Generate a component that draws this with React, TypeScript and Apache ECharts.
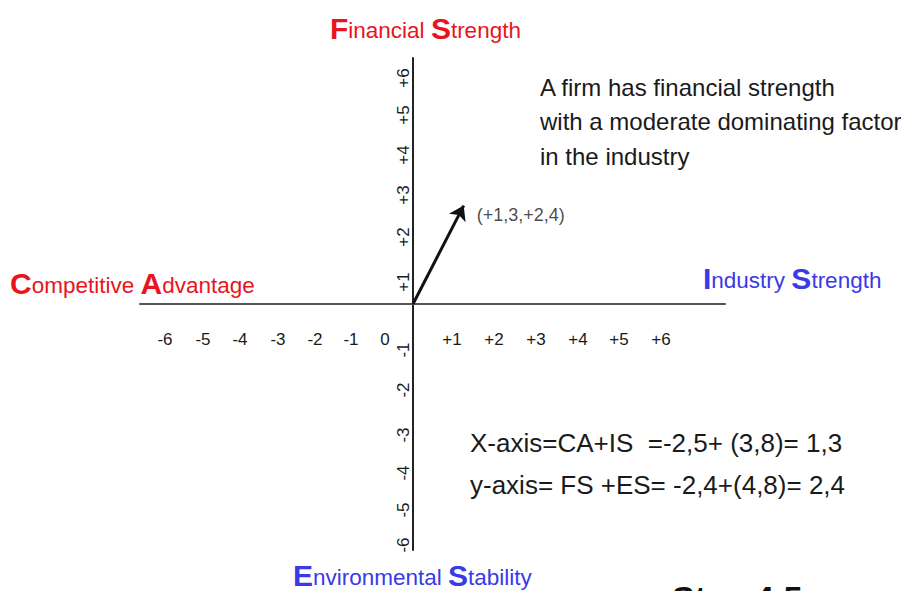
import React, { useEffect, useRef } from "react";
import * as echarts from "echarts";

// ---- data ----
const X_TICK_LABELS = ["-6", "-5", "-4", "-3", "-2", "-1", "0", "+1", "+2", "+3", "+4", "+5", "+6"];
const Y_TICK_LABELS = ["-6", "-5", "-4", "-3", "-2", "-1", "+1", "+2", "+3", "+4", "+5", "+6"];
const DIRECTIONAL_VECTOR = [1.3, 2.4];
const POINT_LABEL = "(+1,3,+2,4)";
const AXIS_TITLES = {
  top: ["F", "inancial ", "S", "trength"],
  left: ["C", "ompetitive ", "A", "dvantage"],
  right: ["I", "ndustry ", "S", "trength"],
  bottom: ["E", "nvironmental ", "S", "tability"],
};
const NOTE_LINES = [
  "A firm has financial strength",
  "with a moderate dominating factor",
  "in the industry",
];
const FORMULA_LINES = [
  "X-axis=CA+IS  =-2,5+ (3,8)= 1,3",
  "y-axis= FS +ES= -2,4+(4,8)= 2,4",
];
const STEP_TEXT = "Step 4.5";

// ---- styles / layout ----
const FONT = "'Liberation Sans', Arial, Helvetica, sans-serif";
const RED = "#e8141e";
const BLUE = "#3a3ae6";
const GRID = { left: 140, width: 585, top: 58, height: 492 };
const X_RANGE = [-7, 8];
const Y_RANGE = [-6, 6];
const X_SHIFT: Record<string, number> = {
  "-6": -14, "-5": -15, "-4": -17, "-3": -18, "-2": -20, "-1": -23, "0": -28,
  "+1": 0, "+2": 3, "+3": 6, "+4": 9, "+5": 11, "+6": 14,
};
const Y_SHIFT: Record<string, number> = {
  "-6": -5, "-5": 1, "-4": 5, "-3": 8, "-2": 4, "-1": 5,
  "+1": 19, "+2": 15, "+3": 14, "+4": 15, "+5": 16, "+6": 20,
};

function findLabel(list: string[], v: number) {
  return list.findIndex((s) => Number(s) === v);
}

function titleRich(parts: string[], color: string) {
  return {
    text: `{b|${parts[0]}}{s|${parts[1]}}{b|${parts[2]}}{s|${parts[3]}}`,
    rich: {
      b: { fontSize: 30, fontWeight: "bold", fontFamily: FONT, fill: color, color, verticalAlign: "bottom" },
      s: { fontSize: 22.5, fontFamily: FONT, fill: color, color, verticalAlign: "bottom", padding: [0, 0, 1, 0] },
    },
  };
}

export default function App() {
  const ref = useRef<HTMLDivElement>(null);
  useEffect(() => {
    document.body.style.margin = "0";
    const chart = echarts.init(ref.current!, undefined, { renderer: "svg" });

    // pixel distance from grid edges to the zero lines (axes cross at 0,0)
    const zeroY = GRID.top + (Y_RANGE[1] / (Y_RANGE[1] - Y_RANGE[0])) * GRID.height;
    const zeroX = GRID.left + (-X_RANGE[0] / (X_RANGE[1] - X_RANGE[0])) * GRID.width;
    const xOffset = -(GRID.top + GRID.height - zeroY);
    const yOffset = -(zeroX - GRID.left);

    const xRich: Record<string, any> = {};
    X_TICK_LABELS.forEach((s, i) => {
      const d = X_SHIFT[s] || 0;
      xRich["x" + i] = {
        fontSize: 17, fontFamily: FONT, color: "#1a1a1a",
        padding: [0, d < 0 ? -2 * d : 0, 0, d > 0 ? 2 * d : 0],
      };
    });
    const yRich: Record<string, any> = {};
    Y_TICK_LABELS.forEach((s, i) => {
      const d = Y_SHIFT[s] || 0;
      yRich["y" + i] = {
        fontSize: 17, fontFamily: FONT, color: "#1a1a1a",
        padding: [0, d > 0 ? 2 * d : 0, 0, d < 0 ? -2 * d : 0],
      };
    });

    const textEl = (x: number, y: number, text: string, size: number, extra: any = {}) => ({
      type: "text",
      x, y,
      style: { text, fontSize: size, fontFamily: FONT, fill: "#1a1a1a", textVerticalAlign: "middle", ...extra },
    });

    chart.setOption({
      animation: false,
      backgroundColor: "#ffffff",
      grid: { ...GRID, containLabel: false },
      xAxis: {
        type: "value", min: X_RANGE[0], max: X_RANGE[1], interval: 1,
        offset: xOffset,
        axisLine: { onZero: false, lineStyle: { color: "#555", width: 2 } },
        axisTick: { show: false },
        splitLine: { show: false },
        axisLabel: {
          margin: 27,
          fontSize: 17, fontFamily: FONT, color: "#1a1a1a",
          formatter: (v: number) => {
            const i = findLabel(X_TICK_LABELS, v);
            return i < 0 ? "" : `{x${i}|${X_TICK_LABELS[i]}}`;
          },
          rich: xRich,
        },
      },
      yAxis: {
        type: "value", min: Y_RANGE[0], max: Y_RANGE[1], interval: 1,
        offset: yOffset,
        axisLine: { onZero: false, lineStyle: { color: "#222", width: 2 } },
        axisTick: { show: false },
        splitLine: { show: false },
        axisLabel: {
          rotate: 90, margin: 1,
          fontSize: 17, fontFamily: FONT, color: "#1a1a1a",
          formatter: (v: number) => {
            const i = findLabel(Y_TICK_LABELS, v);
            return i < 0 ? "" : `{y${i}|${Y_TICK_LABELS[i]}}`;
          },
          rich: yRich,
        },
      },
      series: [
        {
          type: "lines",
          coordinateSystem: "cartesian2d",
          data: [{ coords: [[0, 0], DIRECTIONAL_VECTOR] }],
          symbol: ["none", "arrow"],
          symbolSize: [0, 14],
          lineStyle: { color: "#111", width: 3, opacity: 1, curveness: 0 },
          silent: true,
          z: 5,
        },
        {
          type: "scatter",
          data: [DIRECTIONAL_VECTOR],
          symbolSize: 2,
          itemStyle: { color: "transparent" },
          label: {
            show: true, position: "right", distance: 12, offset: [0, 9],
            formatter: POINT_LABEL, fontSize: 18, fontFamily: FONT, color: "#1a1a1a",
          },
          silent: true,
        },
      ],
      graphic: [
        { type: "text", x: 330, y: 43, style: { ...titleRich(AXIS_TITLES.top, RED), textVerticalAlign: "bottom" } },
        { type: "text", x: 10, y: 298, style: { ...titleRich(AXIS_TITLES.left, RED), textVerticalAlign: "bottom" } },
        { type: "text", x: 703, y: 293, style: { ...titleRich(AXIS_TITLES.right, BLUE), textVerticalAlign: "bottom" } },
        { type: "text", x: 293, y: 590, style: { ...titleRich(AXIS_TITLES.bottom, BLUE), textVerticalAlign: "bottom" } },
        ...NOTE_LINES.map((t, i) => textEl(540, 87 + i * 34.5, t, 24)),
        ...FORMULA_LINES.map((t, i) => textEl(470, 443 + i * 42, t, 26)),
        textEl(672, 598, STEP_TEXT, 34, { fontWeight: "bold", fill: "#111" }),
      ],
    });
    return () => chart.dispose();
  }, []);
  return <div ref={ref} style={{ width: 901, height: 591 }} />;
}
